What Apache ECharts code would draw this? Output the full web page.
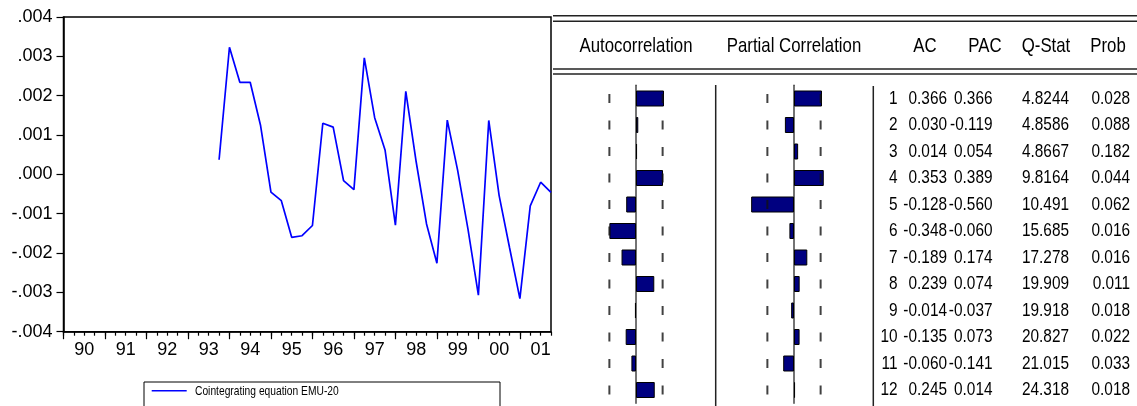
<!DOCTYPE html>
<html>
<head>
<meta charset="utf-8">
<script src="https://cdn.jsdelivr.net/npm/echarts@6/dist/echarts.min.js"></script>
<style>
html,body{margin:0;padding:0;background:#fff;}
#chart{width:1137px;height:406px;}
</style>
</head>
<body>
<div id="chart"></div>
<script>
// ---------- data ----------
const years = ['90','91','92','93','94','95','96','97','98','99','00','01'];
const cointEq = [
  null, null, null, null,            // 1990
  null, null, null, null,            // 1991
  null, null, null, null,            // 1992
  null, null, null, 0.00037,         // 1993
  0.00323, 0.00234, 0.00234, 0.00124,   // 1994
  -0.00045, -0.00067, -0.00160, -0.00156, // 1995
  -0.00130, 0.00130, 0.00120, -0.00016,   // 1996
  -0.00039, 0.00296, 0.00144, 0.00062,    // 1997
  -0.00129, 0.00211, 0.00032, -0.00126,   // 1998
  -0.00226, 0.00138, 0.00010, -0.00140,   // 1999
  -0.00307, 0.00137, -0.00054, -0.00186,  // 2000
  -0.00316, -0.00080, -0.00020, -0.00046  // 2001
];
const seriesName = 'Cointegrating equation EMU-20';
const yTicks = { min: -0.004, max: 0.004, step: 0.001 };

const lags  = ['1','2','3','4','5','6','7','8','9','10','11','12'];
const ac    = [0.366, 0.030, 0.014, 0.353, -0.128, -0.348, -0.189, 0.239, -0.014, -0.135, -0.060, 0.245];
const pac   = [0.366, -0.119, 0.054, 0.389, -0.560, -0.060, 0.174, 0.074, -0.037, 0.073, -0.141, 0.014];
const qStat = [4.8244, 4.8586, 4.8667, 9.8164, 10.491, 15.685, 17.278, 19.909, 19.918, 20.827, 21.015, 24.318];
const prob  = [0.028, 0.088, 0.182, 0.044, 0.062, 0.016, 0.016, 0.011, 0.018, 0.022, 0.033, 0.018];
const bound = 0.348;   // approx. 2/sqrt(T)
const headers = ['Autocorrelation', 'Partial Correlation', 'AC', 'PAC', 'Q-Stat', 'Prob'];

// ---------- build ----------
const quarters = [];
years.forEach(y => { for (let q = 1; q <= 4; q++) quarters.push(y + 'Q' + q); });

const SANS = '"Liberation Sans", Arial, sans-serif';

function fmtY(v) {
  if (Math.abs(v) < 1e-9) v = 0;
  return v.toFixed(3).replace('0.', '.');
}

const rowTop = 85.25, rowH = 318;
const textCols = [
  { right: 897.5, fmt: (i) => lags[i] },
  { right: 947,   fmt: (i) => ac[i].toFixed(3) },
  { right: 992.5, fmt: (i) => pac[i].toFixed(3) },
  { right: 1069,  fmt: (i) => qStat[i].toPrecision(5) },
  { right: 1130,  fmt: (i) => prob[i].toFixed(3) }
];

const grids = [
  { left: 63.5, top: 17, width: 487.5, height: 314.7, show: true, borderColor: '#000', borderWidth: 1.5, backgroundColor: 'transparent' },
  { left: 636 - 0.5 * 76.5, top: rowTop, width: 76.5, height: rowH },
  { left: 794 - 0.6 * 76.5, top: rowTop, width: 1.2 * 76.5, height: rowH }
];
textCols.forEach(c => grids.push({ left: c.right, top: rowTop, width: 1, height: rowH }));

const xAxes = [
  { type: 'category', gridIndex: 0, data: quarters, boundaryGap: false, position: 'bottom',
    axisLine: { onZero: false, lineStyle: { color: '#000', width: 1.5 } },
    axisTick: { interval: 0, length: 4, lineStyle: { color: '#000', width: 1.2 } },
    axisLabel: { show: false }, splitLine: { show: false } },
  { type: 'category', gridIndex: 0, data: quarters, boundaryGap: false, position: 'bottom',
    axisLine: { show: false, onZero: false },
    axisTick: { interval: (i) => i % 4 === 0, length: 7.5, lineStyle: { color: '#000', width: 1.2 } },
    axisLabel: { interval: (i) => i % 4 === 2, formatter: (v) => v.slice(0, 2), color: '#000',
                 fontFamily: SANS, fontSize: 18, margin: 9 },
    splitLine: { show: false } },
  { type: 'value', gridIndex: 1, min: -0.5, max: 0.5, show: false },
  { type: 'value', gridIndex: 2, min: -0.6, max: 0.6, show: false }
];
const yAxes = [
  { type: 'value', gridIndex: 0, min: yTicks.min, max: yTicks.max, interval: yTicks.step,
    axisLine: { show: true, onZero: false, lineStyle: { color: '#000', width: 1.5 } },
    axisTick: { show: true, length: 7, lineStyle: { color: '#000', width: 1.2 } },
    axisLabel: { formatter: fmtY, color: '#000', fontFamily: SANS, fontSize: 18, margin: 11 },
    splitLine: { show: false } },
  { type: 'category', gridIndex: 1, data: lags, inverse: true,
    axisLine: { show: true, onZero: true, lineStyle: { color: '#444', width: 1.5 } },
    axisTick: { show: false }, axisLabel: { show: false } },
  { type: 'category', gridIndex: 2, data: lags, inverse: true,
    axisLine: { show: true, onZero: true, lineStyle: { color: '#444', width: 1.5 } },
    axisTick: { show: false }, axisLabel: { show: false } }
];
textCols.forEach((c, k) => {
  xAxes.push({ type: 'value', gridIndex: 3 + k, min: 0, max: 1, show: false });
  yAxes.push({ type: 'category', gridIndex: 3 + k, data: lags, inverse: true, show: false });
});

function boundPts() {
  const pts = [];
  lags.forEach((l, i) => { pts.push([-bound, i]); pts.push([bound, i]); });
  return pts;
}

const barStyle = { color: '#000080', borderColor: '#000', borderWidth: 1 };
const series = [
  { name: seriesName, type: 'line', xAxisIndex: 0, yAxisIndex: 0, data: cointEq,
    symbol: 'none', lineStyle: { color: '#0000ff', width: 1.7 }, itemStyle: { color: '#0000ff' },
    connectNulls: false, animation: false },
  { type: 'bar', xAxisIndex: 2, yAxisIndex: 1, data: ac, barWidth: 16, itemStyle: barStyle, animation: false },
  { type: 'bar', xAxisIndex: 3, yAxisIndex: 2, data: pac, barWidth: 16, itemStyle: barStyle, animation: false },
  { type: 'scatter', xAxisIndex: 2, yAxisIndex: 1, data: boundPts(), symbol: 'rect', symbolSize: [2, 9],
    itemStyle: { color: '#111' }, animation: false },
  { type: 'scatter', xAxisIndex: 3, yAxisIndex: 2, data: boundPts(), symbol: 'rect', symbolSize: [2, 9],
    itemStyle: { color: '#111' }, animation: false }
];
textCols.forEach((c, k) => {
  series.push({
    type: 'custom', xAxisIndex: 4 + k, yAxisIndex: 3 + k, animation: false,
    data: lags.map((l, i) => [0, i]),
    renderItem: (params, api) => {
      const p = api.coord([0, api.value(1)]);
      return { type: 'text', x: p[0], y: p[1], scaleX: 0.81,
        style: { text: c.fmt(params.dataIndex), font: '19px ' + SANS, fill: '#000',
                 align: 'right', verticalAlign: 'middle' } };
    }
  });
});

function hline(y) {
  return { type: 'line', shape: { x1: 553, y1: y, x2: 1137, y2: y }, style: { stroke: '#222', lineWidth: 1.5 } };
}
function vline(x, y1) {
  return { type: 'line', shape: { x1: x, y1: y1, x2: x, y2: 406 }, style: { stroke: '#222', lineWidth: 1.5 } };
}
const headerX = [636, 794, 925, 985, 1046, 1108];
const graphic = [
  hline(15.7), hline(21.3), hline(69), hline(74),
  vline(715.7, 85), vline(873.3, 86),
  { type: 'rect', shape: { x: 144, y: 382, width: 356, height: 40 }, style: { fill: 'none', stroke: '#000', lineWidth: 1 } },
  { type: 'line', shape: { x1: 151.7, y1: 390.7, x2: 186.7, y2: 390.7 }, style: { stroke: '#0000ff', lineWidth: 1.5 } },
  { type: 'text', x: 195, y: 391, scaleX: 0.76,
    style: { text: seriesName, font: '13.5px ' + SANS, fill: '#000', align: 'left', verticalAlign: 'middle' } }
];
headers.forEach((h, k) => graphic.push({
  type: 'text', x: headerX[k], y: 46.7, scaleX: 0.8,
  style: { text: h, font: '21px ' + SANS, fill: '#000', align: 'center', verticalAlign: 'middle' }
}));

const chart = echarts.init(document.getElementById('chart'), null, { renderer: 'canvas' });
chart.setOption({
  backgroundColor: '#fff',
  animation: false,
  grid: grids,
  xAxis: xAxes,
  yAxis: yAxes,
  series: series,
  graphic: graphic
});
</script>
</body>
</html>
